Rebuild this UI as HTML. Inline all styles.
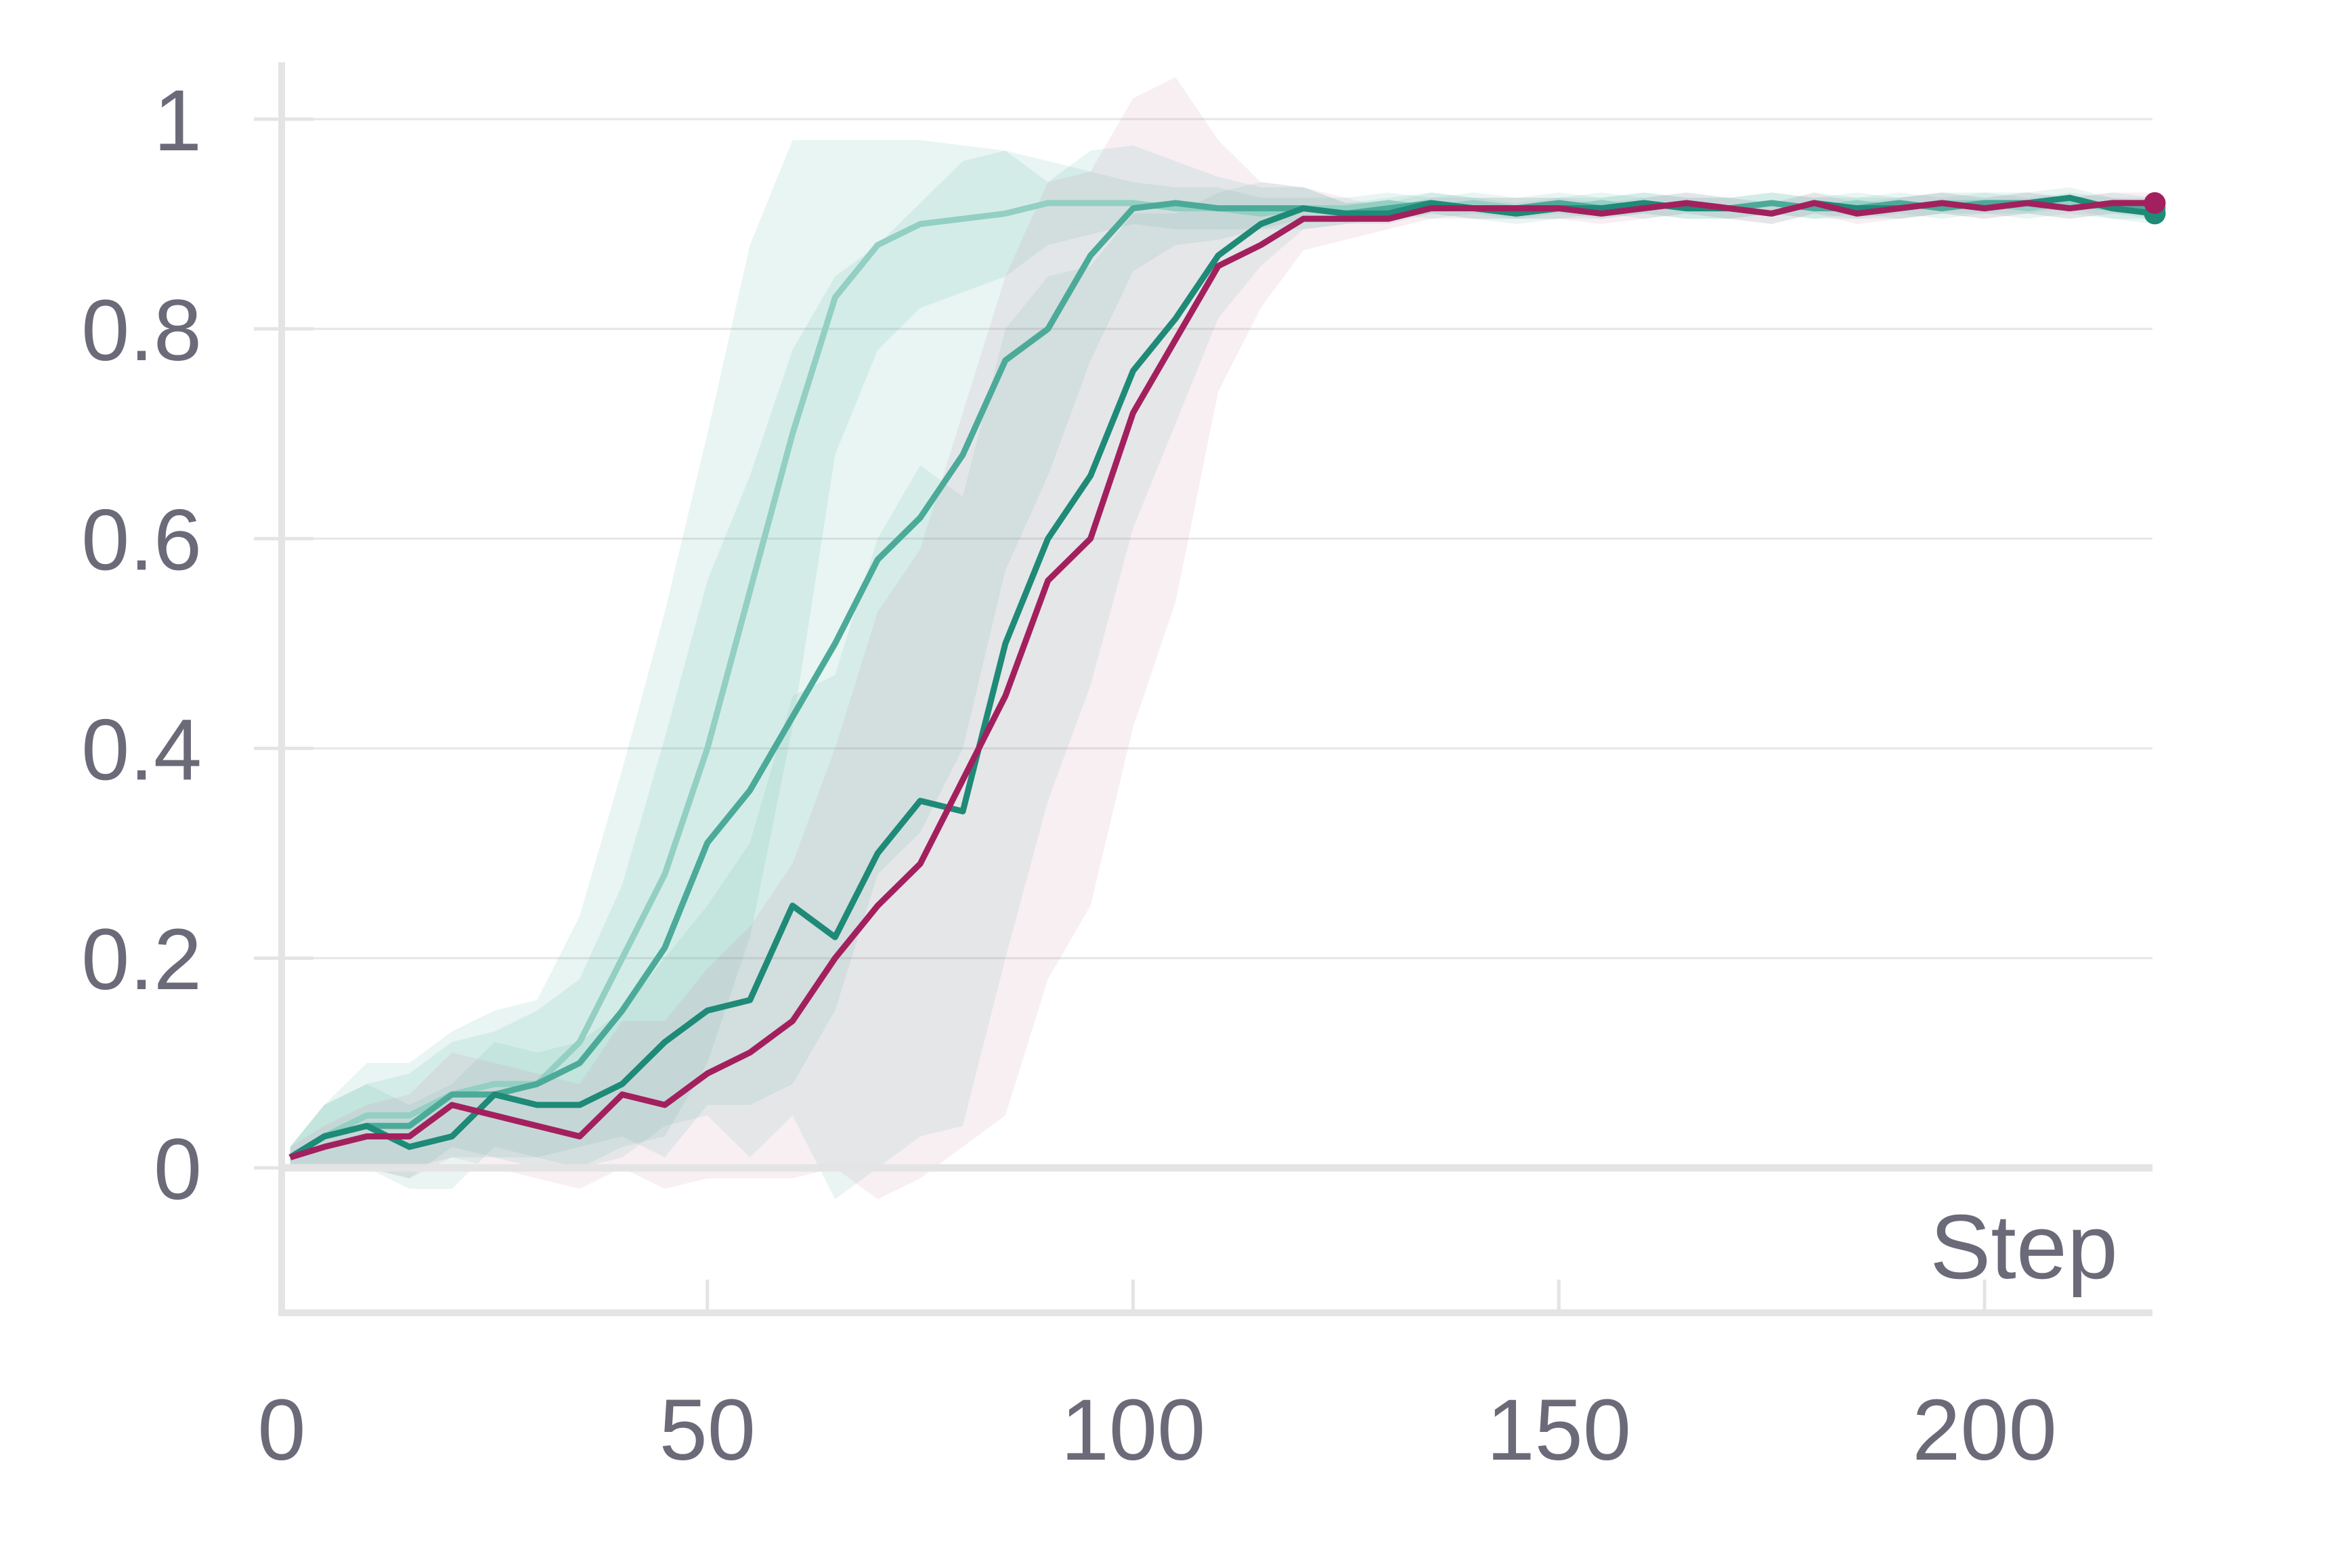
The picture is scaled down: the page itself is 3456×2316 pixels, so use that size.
<!DOCTYPE html>
<html><head><meta charset="utf-8">
<style>
html,body{margin:0;padding:0;background:#fff;}
svg{display:block;font-family:"Liberation Sans",sans-serif;}
</style></head>
<body>
<svg id="chart" width="3456" height="2316" viewBox="0 0 3456 2316" xmlns="http://www.w3.org/2000/svg"></svg>
<script>
const steps=[1,5,10,15,20,25,30,35,40,45,50,55,60,65,70,75,80,85,90,95,100,105,110,115,120,125,130,135,140,145,150,155,160,165,170,175,180,185,190,195,200,205,210,215,220];
const seriesA=[.01,.03,.05,.05,.07,.08,.08,.12,.2,.28,.4,.55,.7,.83,.88,.9,.905,.91,.92,.92,.92,.915,.915,.91,.915,.915,.92,.915,.92,.915,.915,.92,.915,.92,.915,.92,.915,.92,.915,.92,.92,.915,.92,.915,.915];
const seriesB=[.01,.03,.04,.04,.07,.07,.08,.1,.15,.21,.31,.36,.43,.5,.58,.62,.68,.77,.8,.87,.915,.92,.915,.915,.915,.91,.915,.92,.915,.915,.92,.915,.92,.915,.915,.92,.915,.915,.92,.915,.92,.92,.915,.92,.915];
const seriesC=[.01,.03,.04,.02,.03,.07,.06,.06,.08,.12,.15,.16,.25,.22,.3,.35,.34,.5,.6,.66,.76,.81,.87,.9,.915,.91,.91,.92,.915,.91,.915,.915,.92,.915,.915,.91,.92,.915,.915,.92,.915,.92,.925,.915,.91];
const seriesD=[.01,.02,.03,.03,.06,.05,.04,.03,.07,.06,.09,.11,.14,.2,.25,.29,.37,.45,.56,.6,.72,.79,.86,.88,.905,.905,.905,.915,.915,.915,.915,.91,.915,.92,.915,.91,.92,.91,.915,.92,.915,.92,.915,.92,.92];
const spreadA=[.01,.03,.05,.05,.06,.07,.08,.12,.18,.25,.3,.33,.28,.15,.1,.08,.07,.06,.04,.03,.02,.02,.02,.015,.01,.01,.01,.01,.01,.01,.01,.01,.01,.01,.01,.01,.01,.01,.01,.01,.01,.01,.01,.01,.01];
const spreadB=[.01,.03,.04,.05,.05,.06,.07,.08,.12,.2,.25,.3,.35,.35,.3,.3,.28,.2,.14,.1,.06,.04,.03,.02,.02,.01,.01,.01,.01,.01,.01,.01,.01,.01,.01,.01,.01,.01,.01,.01,.01,.01,.01,.01,.01];
const spreadC=[.01,.03,.04,.04,.05,.05,.05,.06,.07,.08,.1,.15,.2,.25,.3,.32,.3,.3,.25,.2,.15,.1,.06,.04,.02,.01,.01,.01,.01,.01,.01,.01,.01,.01,.01,.01,.01,.01,.01,.01,.01,.01,.01,.01,.01];
const spreadD=[.01,.02,.03,.04,.05,.05,.05,.05,.07,.08,.1,.12,.15,.2,.28,.3,.35,.4,.38,.35,.3,.25,.12,.06,.03,.02,.01,.01,.01,.01,.01,.01,.01,.01,.01,.01,.01,.01,.01,.01,.01,.01,.01,.01,.01];
const yTicks=[0,0.2,0.4,0.6,0.8,1];
const yTickLabels=["0","0.2","0.4","0.6","0.8","1"];
const xTicks=[0,50,100,150,200];

const NS="http://www.w3.org/2000/svg";
const svg=document.getElementById('chart');
const X=v=>416+v*(2931-416)/200;
const Y=v=>1725-v*(1725-176);
function mk(tag,attrs,parent){const e=document.createElementNS(NS,tag);for(const k in attrs)e.setAttribute(k,attrs[k]);(parent||svg).appendChild(e);return e;}

yTicks.forEach((t,i)=>{
  if(t!==0){const g=mk('line',{x1:375,x2:3179,y1:Y(t),y2:Y(t),stroke:'#e6e6e6','stroke-width':3});
  
  }
  const tk=mk('line',{x1:375,x2:463,y1:Y(t),y2:Y(t),stroke:'#e4e4e4','stroke-width':5});
  
  
  const lb=mk('text',{x:298,y:Y(t)+46,'text-anchor':'end','font-size':128,fill:'#6b6a78'});
  lb.textContent=yTickLabels[i];
  
  
});
xTicks.forEach(t=>{
  const tk=mk('line',{x1:X(t),x2:X(t),y1:1890,y2:1939,stroke:'#e4e4e4','stroke-width':5});
  
  
  const lb=mk('text',{x:X(t),y:2156,'text-anchor':'middle','font-size':128,fill:'#6b6a78'});
  lb.textContent=String(t);
  
  
});
const series=[
 {v:seriesA,s:spreadA,c:'#93cfc3',band:'rgba(80,175,160,0.13)',n:'run-a'},
 {v:seriesB,s:spreadB,c:'#4caa99',band:'rgba(80,175,160,0.13)',n:'run-b'},
 {v:seriesC,s:spreadC,c:'#1e8a77',band:'rgba(80,175,160,0.12)',n:'run-c'},
 {v:seriesD,s:spreadD,c:'#a3205e',band:'rgba(200,120,160,0.12)',n:'run-d'}
];
series.forEach(se=>{
  let up=steps.map((st,i)=>X(st)+','+Y(se.v[i]+se.s[i]));
  let dn=steps.map((st,i)=>X(st)+','+Y(se.v[i]-se.s[i])).reverse();
  const b=mk('polygon',{points:up.concat(dn).join(' '),fill:se.band});
  
  
});
series.forEach(se=>{
  const l=mk('polyline',{points:steps.map((st,i)=>X(st)+','+Y(se.v[i])).join(' '),fill:'none',stroke:se.c,'stroke-width':9,'stroke-linejoin':'round'});
  
  
  const last=steps.length-1;
  const d=mk('circle',{cx:X(steps[last]),cy:Y(se.v[last]),r:16,fill:se.c});
  
  
});
const z=mk('line',{x1:411,x2:3179,y1:Y(0),y2:Y(0),stroke:'#e4e4e4','stroke-width':11});


const ya=mk('line',{x1:416,x2:416,y1:92,y2:1944,stroke:'#e4e4e4','stroke-width':10});


const xa=mk('line',{x1:411,x2:3179,y1:1939,y2:1939,stroke:'#e4e4e4','stroke-width':10});


const st=mk('text',{x:3128,y:1888,'text-anchor':'end','font-size':135,fill:'#6b6a78'});
st.textContent='Step';


</script>
</body></html>
